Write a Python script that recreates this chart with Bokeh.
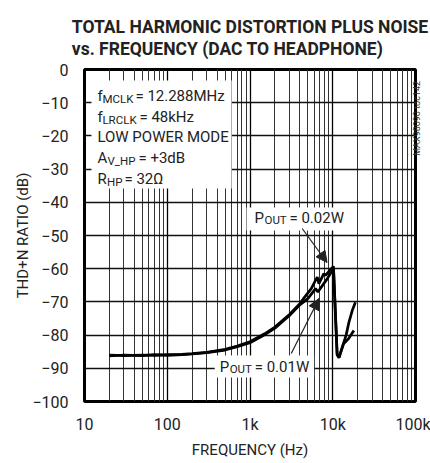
import math
from bokeh.plotting import figure
from bokeh.models import (FixedTicker, Label, BoxAnnotation, Arrow, NormalHead, Title,
                          LinearAxis)
from bokeh.embed import file_html
from bokeh.resources import INLINE

# ---------------- data ----------------
freq_002 = [20, 30, 50, 70, 100, 150, 200, 300, 500, 700, 1000, 1500, 2000, 3000, 4000,
            4600, 5500, 6500, 6800, 7800, 8200, 9200, 10200, 11300, 11900, 13500, 15500, 18000]
thd_002 = [-86.0, -86.2, -86.0, -86.1, -85.9, -85.8, -85.6, -85.2, -84.3, -83.3, -82.0, -79.6,
           -77.6, -73.8, -70.5, -68.5, -66.0, -62.5, -64.5, -61.5, -62.0, -60.5, -59.3, -85.6,
           -86.8, -82.6, -81.1, -78.6]

freq_001 = [20, 30, 50, 70, 100, 150, 200, 300, 500, 700, 1000, 1500, 2000, 3000, 4000,
            5000, 6200, 6600, 8600, 9900, 10200, 11300, 11900, 14500, 15700, 17200, 18800]
thd_001 = [-86.3, -86.0, -86.2, -85.9, -86.1, -85.9, -85.7, -85.3, -84.5, -83.5, -82.3, -79.9,
           -77.9, -74.1, -70.9, -69.0, -66.0, -67.0, -63.0, -60.5, -59.8, -86.0, -86.8, -80.0,
           -76.1, -72.6, -70.1]

x_major = [10, 100, 1000, 10000, 100000]
x_labels = ["10", "100", "1k", "10k", "100k"]
y_ticks = [0, -10, -20, -30, -40, -50, -60, -70, -80, -90, -100]

FONT = "Roboto"

p = figure(width=430, height=463, x_axis_type="log", x_range=(10, 100000), y_range=(-100, 0),
           output_backend="svg", toolbar_location=None,
           min_border_left=84, min_border_right=13, min_border_top=69, min_border_bottom=62)
p.background_fill_color = "white"
p.border_fill_color = "white"
p.outline_line_color = "black"
p.outline_line_width = 3

minor = [m * d for d in x_major[:-1] for m in range(2, 10)]
p.xaxis.ticker = FixedTicker(ticks=x_major, minor_ticks=minor)
p.xaxis.major_label_overrides = {v: t for v, t in zip(x_major, x_labels)}
p.yaxis.ticker = FixedTicker(ticks=y_ticks)

for ax in (p.xaxis[0], p.yaxis[0]):
    ax.axis_line_color = None
    ax.major_tick_line_color = None
    ax.minor_tick_line_color = None
    ax.major_tick_out = 0
    ax.major_tick_in = 0
    ax.minor_tick_out = 0
    ax.minor_tick_in = 0
    ax.major_label_text_font = FONT
    ax.major_label_text_font_size = "16px"
    ax.major_label_text_color = "#222"
    ax.axis_label_text_font = FONT
    ax.axis_label_text_font_size = "15px"
    ax.axis_label_text_font_style = "normal"
    ax.axis_label_text_color = "#222"
p.xaxis.axis_label = "FREQUENCY (Hz)"
p.yaxis.axis_label = "THD+N RATIO (dB)"
p.xaxis.major_label_standoff = 13
p.xaxis.axis_label_standoff = 4
p.yaxis.major_label_standoff = 16
p.yaxis.axis_label_standoff = -3

p.xgrid.grid_line_color = "black"
p.xgrid.grid_line_width = 1.3
p.xgrid.minor_grid_line_color = "#333"
p.xgrid.minor_grid_line_width = 1
p.ygrid.grid_line_color = "#111"
p.ygrid.grid_line_width = 1.3

p.line(freq_001, thd_001, line_color="black", line_width=2.7)
p.line(freq_002, thd_002, line_color="black", line_width=2.7)

# figure id, as the single tick label of a bare right-hand axis
rax = LinearAxis(ticker=FixedTicker(ticks=[-26]), major_label_overrides={-26: "MAX98090 toc142"},
                 axis_line_color=None, major_tick_line_color=None, minor_tick_line_color=None,
                 major_tick_out=0, major_tick_in=0, minor_tick_out=0, minor_tick_in=0,
                 major_label_text_font=FONT, major_label_text_font_size="9px",
                 major_label_text_color="#333", major_label_standoff=2,
                 major_label_orientation=math.pi / 2)
p.add_layout(rax, "right")

# two-line title
p.add_layout(Title(text="TOTAL HARMONIC DISTORTION PLUS NOISE\nvs. FREQUENCY (DAC TO HEADPHONE)",
                   align="center", text_font=FONT, text_font_size="17.5px",
                   text_font_style="bold", text_color="#222", text_line_height=1.1,
                   standoff=21), "above")

# reference-picture pixel -> data helpers (for annotation placement)
def fx(px):
    return 10 ** (1 + (px - 84) / 83.25)

def fy(py):
    return -(py - 69) / 3.32

def txt(px, py, s, size=15, dx=0, dy=0, style="normal"):
    p.add_layout(Label(x=fx(px), y=fy(py), x_offset=dx, y_offset=-dy, text=s,
                       text_font=FONT, text_font_size=f"{size}px", text_font_style=style,
                       text_color="#222", text_align="left", text_baseline="middle"))

def box(l, r, t, b):
    p.add_layout(BoxAnnotation(left=fx(l), right=fx(r), top=fy(t), bottom=fy(b),
                               fill_color="white", fill_alpha=1.0, line_color=None))

# conditions box
box(91, 232, 80, 188)
txt(97, 95, "f"); txt(97, 95, "MCLK", 11.5, dx=5, dy=3); txt(97, 95, "= 12.288MHz", dx=38)
txt(97, 116, "f"); txt(97, 116, "LRCLK", 11.5, dx=5, dy=3); txt(97, 116, "= 48kHz", dx=42)
txt(97, 136, "LOW POWER MODE")
txt(97, 157, "A"); txt(97, 157, "V_HP", 11.5, dx=10, dy=3); txt(97, 157, "= +3dB", dx=41)
txt(97, 178, "R"); txt(97, 178, "HP", 11.5, dx=9.5, dy=3); txt(97, 178, "= 32Ω", dx=27)

# POUT labels
box(247, 348, 207, 230)
box(215, 315, 355, 377)
txt(255, 217, "P"); txt(255, 217, "OUT", 11.5, dx=10, dy=2); txt(255, 217, "= 0.02W", dx=35)
txt(220, 366, "P"); txt(220, 366, "OUT", 11.5, dx=10, dy=2); txt(220, 366, "= 0.01W", dx=35)

for (x0, y0, x1, y1) in [(303, 228, 328, 262), (292, 353, 320, 298)]:
    p.add_layout(Arrow(x_start=fx(x0), y_start=fy(y0), x_end=fx(x1), y_end=fy(y1),
                       line_color="#222", line_width=1.2,
                       end=NormalHead(size=11, fill_color="#222", line_color="#222")))

open("out.html", "w").write(file_html(p, INLINE))
